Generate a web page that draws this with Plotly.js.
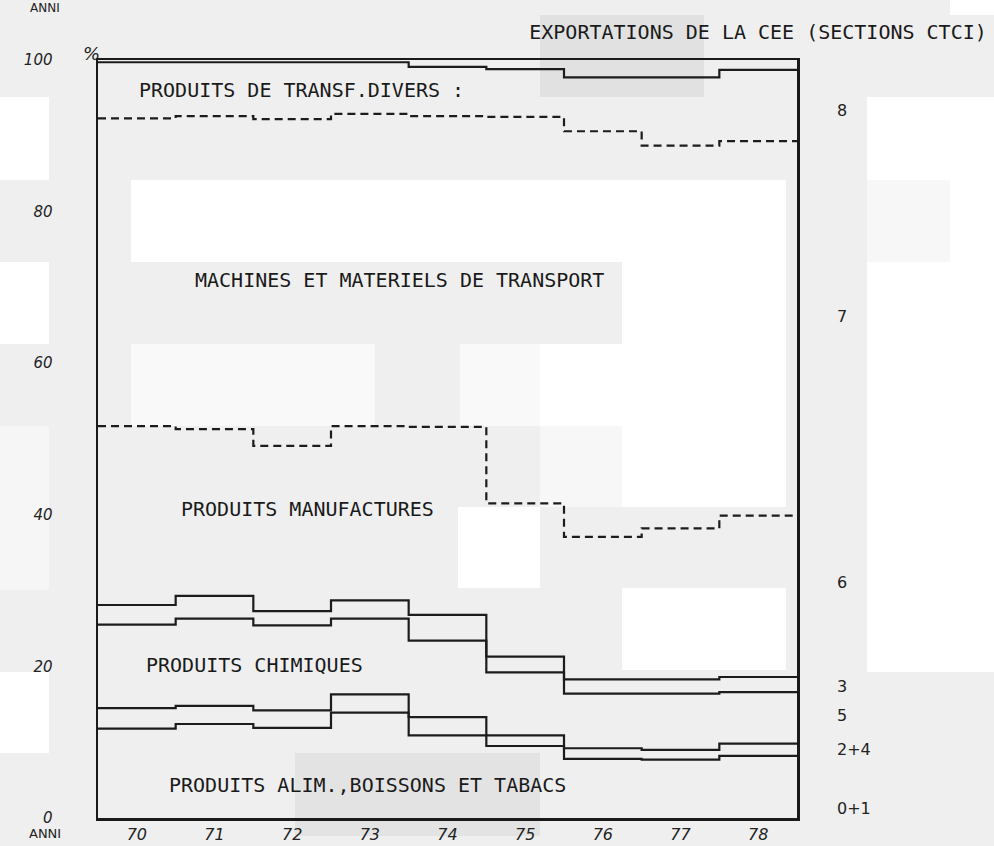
<!DOCTYPE html>
<html>
<head>
<meta charset="utf-8">
<script src="https://cdn.plot.ly/plotly-3.0.1.min.js"></script>
<style>html,body{margin:0;padding:0;background:#efefef;}#chart{width:994px;height:846px;}</style>
</head>
<body>
<div id="chart"></div>
<script>
// Years (categories)
const years = [70, 71, 72, 73, 74, 75, 76, 77, 78];
const yearLabels = ['70', '71', '72', '73', '74', '75', '76', '77', '78'];
// Cumulative shares (%) – upper boundary of each CTCI section band
const cum01 = [11.8, 12.4, 11.9, 13.9, 10.9, 9.5, 7.8, 7.7, 8.2];      // 0+1
const cum24 = [14.5, 14.8, 14.2, 16.3, 13.3, 10.9, 9.2, 9.0, 9.8];     // 2+4
const cum5  = [25.5, 26.3, 25.4, 26.3, 23.4, 19.2, 16.4, 16.4, 16.6];  // 5
const cum3  = [28.1, 29.3, 27.3, 28.7, 26.8, 21.3, 18.3, 18.3, 18.6];  // 3
const cum6  = [51.7, 51.3, 49.1, 51.7, 51.6, 41.5, 37.1, 38.2, 39.9];  // 6
const cum7  = [92.3, 92.6, 92.2, 92.9, 92.6, 92.5, 90.6, 88.7, 89.3];  // 7
const cum8  = [99.7, 99.7, 99.7, 99.7, 99.1, 98.8, 97.7, 97.7, 98.7];  // 8
const yTicks = [0, 20, 40, 60, 80, 100];
const yTickLabels = ['0', '20', '40', '60', '80', '100'];
const sectionLabels = ['8', '7', '6', '3', '5', '2+4', '0+1'];
const sectionLabelY = [93.4, 66.2, 31.1, 17.3, 13.5, 9.0, 1.3];
const bandNames = ['PRODUITS DE TRANSF.DIVERS :', 'MACHINES ET MATERIELS DE TRANSPORT',
  'PRODUITS MANUFACTURES', 'PRODUITS CHIMIQUES', 'PRODUITS ALIM.,BOISSONS ET TABACS'];
const bandNameX = [70.0, 70.72, 70.54, 70.09, 70.39];
const bandNameY = [96.0, 71.0, 40.8, 20.2, 4.35];

// step edges: each year covers [year-0.5, year+0.5]
const edges = years.map(y => y - 0.5).concat([years[years.length - 1] + 0.5]);
function stepTrace(vals, dashed) {
  return {
    x: edges, y: vals.concat([vals[vals.length - 1]]),
    type: 'scatter', mode: 'lines',
    line: {shape: 'hv', color: '#1c1c1c', width: 2.2, dash: dashed ? '8px,5px' : 'solid'},
    hoverinfo: 'skip', showlegend: false
  };
}
const traces = [
  stepTrace(cum01, false), stepTrace(cum24, false), stepTrace(cum5, false),
  stepTrace(cum3, false), stepTrace(cum6, true), stepTrace(cum7, true), stepTrace(cum8, false)
];

// scanned-paper background patches (page pixels: x0, x1, y0, y1, colour)
const patches = [
  [131, 786, 180, 262, '#ffffff'], [622, 786, 262, 344, '#ffffff'],
  [131, 375, 344, 426, '#f9f9f9'], [460, 540, 344, 426, '#f9f9f9'],
  [540, 786, 344, 426, '#ffffff'], [540, 622, 426, 507, '#f7f7f7'],
  [622, 786, 426, 507, '#ffffff'], [458, 540, 507, 588, '#ffffff'],
  [622, 786, 588, 670, '#ffffff'], [295, 540, 753, 836, '#e3e3e3'],
  [540, 704, 15, 97, '#e1e1e1'], [867, 994, 97, 672, '#ffffff'],
  [867, 950, 180, 262, '#f7f7f7'], [950, 994, 0, 15, '#ffffff'],
  [0, 49, 97, 180, '#ffffff'], [0, 49, 262, 344, '#ffffff'],
  [0, 49, 672, 753, '#ffffff'], [0, 49, 426, 590, '#f6f6f6']
];
const L = 98, R = 797, T = 60, B = 818;
const shapes = patches.map(p => ({
  type: 'rect', xref: 'paper', yref: 'paper', layer: 'below',
  x0: (p[0] - L) / (R - L), x1: (p[1] - L) / (R - L),
  y0: (B - p[3]) / (B - T), y1: (B - p[2]) / (B - T),
  fillcolor: p[4], line: {width: 0}
}));

const txtFont = {family: 'DejaVu Sans Mono', size: 20, color: '#1a1a1a'};
const handFont = {family: 'DejaVu Sans', size: 16, color: '#222', style: 'italic'};
const annotations = [];
bandNames.forEach((t, i) => annotations.push({
  text: t, x: bandNameX[i], y: bandNameY[i], xref: 'x', yref: 'y',
  xanchor: 'left', yanchor: 'middle', showarrow: false, font: txtFont
}));
sectionLabels.forEach((t, i) => annotations.push({
  text: t, x: 1.054, y: sectionLabelY[i], xref: 'paper', yref: 'y',
  xanchor: 'left', yanchor: 'middle', showarrow: false,
  font: {family: 'DejaVu Sans', size: 16, color: '#222'}
}));
annotations.push({text: '%', x: -0.009, y: 1.009, xref: 'paper', yref: 'paper',
  xanchor: 'center', yanchor: 'middle', showarrow: false,
  font: {family: 'DejaVu Sans', size: 18, color: '#222', style: 'italic'}});
annotations.push({text: 'ANNI', x: -0.076, y: -0.02, xref: 'paper', yref: 'paper',
  xanchor: 'center', yanchor: 'middle', showarrow: false,
  font: {family: 'DejaVu Sans', size: 13, color: '#222'}});
annotations.push({text: 'ANNI', x: -0.076, y: (B - 8) / (B - T), xref: 'paper', yref: 'paper',
  xanchor: 'center', yanchor: 'middle', showarrow: false,
  font: {family: 'DejaVu Sans', size: 12, color: '#222'}});

const layout = {
  width: 994, height: 846,
  margin: {l: L, r: 994 - R, t: T, b: 846 - B},
  paper_bgcolor: '#efefef', plot_bgcolor: '#efefef',
  title: {text: 'EXPORTATIONS DE LA CEE (SECTIONS CTCI)', x: 758 / 994, xanchor: 'center',
    y: 1 - 32 / 846, yanchor: 'middle', font: txtFont},
  xaxis: {
    range: [69.5, 78.5], tickvals: years, ticktext: yearLabels,
    showgrid: false, zeroline: false, showline: true, mirror: true,
    linecolor: '#1a1a1a', linewidth: 2.5, ticks: '',
    tickfont: handFont, ticklabelstandoff: 0
  },
  yaxis: {
    range: [0, 100], tickvals: yTicks, ticktext: yTickLabels,
    showgrid: false, zeroline: false, showline: true, mirror: true,
    linecolor: '#1a1a1a', linewidth: 2.5, ticks: '',
    tickfont: {family: 'DejaVu Sans', size: 15, color: '#222', style: 'italic'},
    ticklabelstandoff: 40
  },
  shapes: shapes,
  annotations: annotations
};
Plotly.newPlot('chart', traces, layout, {staticPlot: true, displayModeBar: false});
</script>
</body>
</html>
